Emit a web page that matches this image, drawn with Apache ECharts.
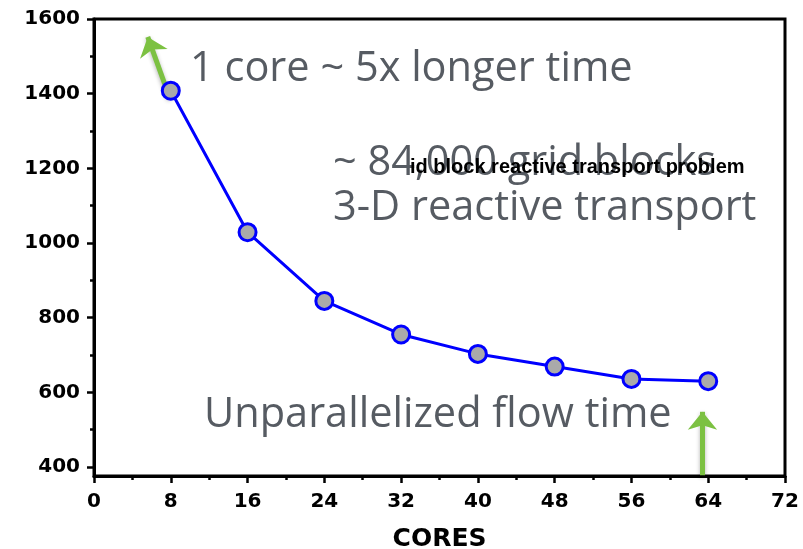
<!DOCTYPE html>
<html>
<head>
<meta charset="utf-8">
<script src="https://cdn.jsdelivr.net/npm/echarts@6/dist/echarts.min.js"></script>
<style>
html,body{margin:0;padding:0;background:#fff;}
#chart{width:803px;height:549px;}
</style>
</head>
<body>
<div id="chart"></div>
<script>
// ---- data ----
const cores = [8, 16, 24, 32, 40, 48, 56, 64];
const times = [1408, 1029, 845, 755, 703, 669, 636, 630];
const yMajorTicks = [400, 600, 800, 1000, 1200, 1400, 1600];
const yMinorTicks = [500, 700, 900, 1100, 1300, 1500];
const arrowUp1 = [[7.9, 1388], [5.6, 1552]];
const arrowUp2 = [[63.4, 378], [63.4, 548]];
const notes = [
  { text: '1 core ~ 5x longer time', x: 190, y: 83 },
  { text: '~ 84,000 grid blocks', x: 333, y: 177 },
  { text: '3-D reactive transport', x: 333, y: 222 },
  { text: 'Unparallelized flow time', x: 204, y: 429 }
];
const overlayTitle = 'id block reactive transport problem';

const chart = echarts.init(document.getElementById('chart'));
const labelFont = { fontFamily: 'DejaVu Sans', fontWeight: 'bold', fontSize: 20, color: '#000' };
const noteSize = 41.5;
const graphics = notes.map(n => ({
  type: 'text', left: n.x, top: n.y - noteSize * 0.84, z: 10,
  style: { text: n.text, fill: '#565b62', font: noteSize + 'px "Open Sans"' }
}));
graphics.push({
  type: 'text', left: 410, top: 157, z: 11,
  style: { text: overlayTitle, fill: '#000', font: 'bold 20px "Liberation Sans"' }
});

chart.setOption({
  animation: false,
  grid: { left: 94, right: 18, top: 19, bottom: 73, outerBoundsMode: 'none', containLabel: false, show: true, borderColor: '#000', borderWidth: 3, backgroundColor: 'transparent' },
  xAxis: {
    type: 'value', min: 0, max: 72, interval: 8,
    name: 'CORES', nameLocation: 'middle', nameGap: 51,
    nameTextStyle: { fontFamily: 'DejaVu Sans', fontWeight: 'bold', fontSize: 25, color: '#000' },
    axisLine: { show: true, lineStyle: { color: '#000', width: 3 } },
    axisTick: { show: true, inside: false, length: 7, lineStyle: { color: '#000', width: 2.5 } },
    minorTick: { show: true, splitNumber: 2, length: 4, lineStyle: { color: '#000', width: 2.5 } },
    splitLine: { show: false },
    axisLabel: Object.assign({ margin: 16 }, labelFont)
  },
  yAxis: [{
    type: 'value', min: 376, max: 1600,
    axisLine: { show: true, lineStyle: { color: '#000', width: 3 } },
    axisTick: { show: true, length: 7, customValues: yMajorTicks, lineStyle: { color: '#000', width: 2.5 } },
    splitLine: { show: false },
    axisLabel: Object.assign({ margin: 14, customValues: yMajorTicks, formatter: v => String(v) }, labelFont)
  }, {
    type: 'value', min: 376, max: 1600, position: 'left',
    axisLine: { show: false },
    axisTick: { show: true, length: 4, customValues: yMinorTicks, lineStyle: { color: '#000', width: 2.5 } },
    splitLine: { show: false },
    axisLabel: { show: false }
  }],
  graphic: graphics,
  series: [{
    type: 'line',
    data: cores.map((c, i) => [c, times[i]]),
    symbol: 'circle', symbolSize: 17,
    lineStyle: { color: '#0000ff', width: 3 },
    itemStyle: { color: '#aaaaaa', borderColor: '#0000ff', borderWidth: 3 },
    z: 5,
    markLine: {
      silent: true, symbol: ['none', 'arrow'], symbolSize: [22, 18],
      label: { show: false },
      lineStyle: { color: '#7cc142', width: 5, type: 'solid', shadowColor: 'rgba(0,0,0,0.3)', shadowBlur: 4, shadowOffsetY: 2 },
      itemStyle: { color: '#7cc142' },
      data: [
        [{ coord: arrowUp1[0] }, { coord: arrowUp1[1] }],
        [{ coord: arrowUp2[0] }, { coord: arrowUp2[1] }]
      ]
    }
  }]
});
</script>
</body>
</html>
